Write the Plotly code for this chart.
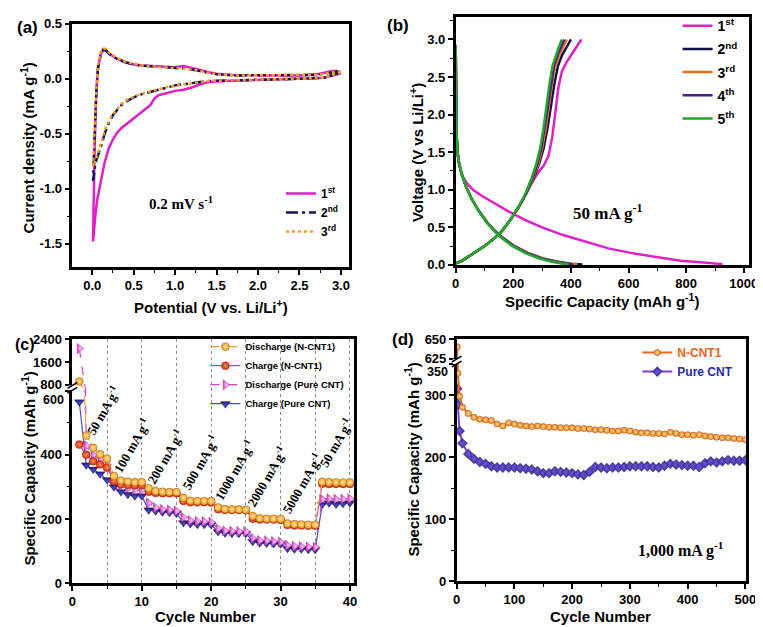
import plotly.graph_objects as go

W, H = 763, 627
def px(x): return x / W
def py(y): return 1 - y / H

SANS = "Arial, Liberation Sans, Helvetica, sans-serif"
SERIF = "Times New Roman, Liberation Serif, serif"

# ---------------- (a) cyclic voltammetry ----------------
cv_v_cath = [3.0, 2.8, 2.5, 2.2, 2.0, 1.8, 1.6, 1.4, 1.3, 1.2, 1.1, 1.0, 0.9, 0.8, 0.75, 0.7,
             0.65, 0.6, 0.5, 0.4, 0.35, 0.3, 0.25, 0.2, 0.15, 0.12, 0.09, 0.06, 0.04, 0.02, 0.01]
cv_v_anod = [0.01, 0.015, 0.02, 0.03, 0.04, 0.05, 0.07, 0.1, 0.13, 0.16, 0.2, 0.3, 0.4, 0.5, 0.6,
             0.8, 1.0, 1.1, 1.2, 1.3, 1.4, 1.5, 1.7, 2.0, 2.3, 2.5, 2.7, 2.8, 2.9, 2.95, 3.0]
cv1_cath = [0.05, 0.01, 0.0, -0.005, -0.01, -0.012, -0.02, -0.03, -0.05, -0.08, -0.1, -0.11, -0.13,
            -0.15, -0.18, -0.24, -0.27, -0.3, -0.36, -0.42, -0.45, -0.49, -0.55, -0.63, -0.76, -0.87,
            -0.98, -1.1, -1.22, -1.38, -1.48]
cv1_anod = [-1.48, -1.2, -0.9, -0.6, -0.35, -0.1, 0.1, 0.22, 0.27, 0.26, 0.23, 0.18, 0.15, 0.13,
            0.12, 0.11, 0.105, 0.115, 0.1, 0.08, 0.06, 0.045, 0.035, 0.03, 0.03, 0.03, 0.04, 0.055,
            0.07, 0.07, 0.06]
cv2_cath = [0.06, 0.01, 0.0, -0.005, -0.008, -0.01, -0.015, -0.02, -0.03, -0.04, -0.05, -0.06, -0.08,
            -0.1, -0.11, -0.12, -0.13, -0.14, -0.17, -0.21, -0.24, -0.28, -0.33, -0.4, -0.5, -0.58,
            -0.66, -0.72, -0.76, -0.85, -0.93]
cv2_anod = [-0.93, -0.8, -0.65, -0.45, -0.28, -0.1, 0.1, 0.21, 0.26, 0.26, 0.23, 0.18, 0.15, 0.13,
            0.12, 0.11, 0.1, 0.095, 0.085, 0.07, 0.055, 0.04, 0.03, 0.03, 0.03, 0.03, 0.035, 0.045,
            0.06, 0.065, 0.06]
cv3_cath = [0.06, 0.01, 0.0, -0.005, -0.008, -0.01, -0.015, -0.02, -0.03, -0.04, -0.05, -0.06, -0.075,
            -0.095, -0.105, -0.115, -0.125, -0.135, -0.165, -0.2, -0.23, -0.27, -0.32, -0.38, -0.47,
            -0.55, -0.63, -0.7, -0.74, -0.78, -0.8]
cv3_anod = [-0.8, -0.7, -0.58, -0.42, -0.26, -0.08, 0.12, 0.24, 0.28, 0.27, 0.24, 0.19, 0.155, 0.135,
            0.12, 0.11, 0.1, 0.095, 0.085, 0.07, 0.055, 0.04, 0.03, 0.03, 0.03, 0.03, 0.035, 0.045,
            0.06, 0.065, 0.06]

# ---------------- (b) charge / discharge profiles ----------------
dis1_cap = [0, 1, 3, 6, 10, 15, 25, 40, 60, 90, 130, 180, 240, 300, 370, 450, 530, 620, 700, 780, 850, 900, 926]
dis1_v = [2.93, 2.2, 1.7, 1.5, 1.38, 1.28, 1.17, 1.08, 1.0, 0.92, 0.83, 0.72, 0.6, 0.5, 0.4, 0.31,
          0.22, 0.15, 0.1, 0.055, 0.035, 0.02, 0.01]
chg1_cap = [0, 20, 40, 70, 100, 130, 160, 190, 220, 245, 265, 288, 305, 322, 335, 345, 356, 368, 385, 402, 420, 436]
chg1_v = [0.02, 0.05, 0.1, 0.17, 0.25, 0.34, 0.45, 0.6, 0.78, 0.95, 1.1, 1.24, 1.32, 1.45, 1.7, 2.0,
          2.35, 2.57, 2.7, 2.8, 2.9, 3.0]
dis_v = [2.9, 2.2, 1.75, 1.52, 1.38, 1.22, 1.05, 0.88, 0.72, 0.56, 0.4, 0.26, 0.16, 0.09, 0.045, 0.015, 0.005]
dis2_cap = [0, 1, 3, 6, 10, 20, 35, 55, 80, 110, 150, 200, 250, 300, 350, 400, 440]
dis3_cap = [0, 1, 3, 6, 10, 20, 35, 55, 80, 110, 149, 198, 247, 295, 342, 388, 422]
dis4_cap = [0, 1, 3, 6, 10, 20, 35, 55, 80, 109, 148, 196, 244, 291, 337, 381, 408]
dis5_cap = [0, 1, 3, 6, 10, 20, 35, 55, 79, 108, 146, 193, 240, 286, 330, 372, 392]
chg_v = [0.02, 0.05, 0.1, 0.17, 0.25, 0.34, 0.45, 0.6, 0.78, 0.95, 1.15, 1.35, 1.55, 1.8, 2.1, 2.4,
         2.65, 2.8, 2.9, 3.0]
chg2_cap = [0, 20, 40, 70, 100, 130, 160, 190, 220, 245, 270, 290, 305, 318, 330, 342, 355, 370, 385, 400]
chg3_cap = [0, 20, 40, 70, 100, 130, 160, 190, 220, 245, 268, 287, 300, 312, 323, 334, 346, 360, 373, 385]
chg4_cap = [0, 20, 40, 70, 100, 130, 160, 190, 220, 244, 266, 284, 297, 308, 319, 330, 341, 354, 366, 377]
chg5_cap = [0, 20, 40, 70, 100, 130, 160, 190, 219, 242, 263, 280, 293, 304, 314, 325, 336, 348, 358, 368]

# ---------------- (c) rate capability ----------------
cycles_c = list(range(1, 41))
dis_ncnt = [920, 460, 422, 402, 388, 334, 320, 317, 315, 315, 296, 287, 285, 284, 284, 266, 257, 256, 256, 256,
            236, 231, 230, 230, 229, 209, 202, 201, 201, 200, 186, 184, 183, 182, 182, 316, 315, 314, 314, 314]
chg_ncnt = [432, 400, 380, 370, 360, 318, 308, 306, 305, 305, 285, 281, 280, 280, 280, 256, 252, 252, 252, 251,
            230, 228, 228, 228, 227, 201, 198, 198, 198, 197, 181, 180, 180, 179, 179, 310, 309, 309, 309, 309]
dis_pure = [2070, 428, 400, 385, 370, 322, 305, 296, 291, 290, 250, 235, 230, 228, 225, 205, 195, 193, 192, 190,
            170, 163, 162, 161, 160, 140, 133, 132, 130, 128, 118, 115, 114, 113, 112, 262, 263, 262, 262, 263]
chg_pure = [565, 368, 355, 340, 322, 300, 285, 276, 272, 272, 228, 225, 222, 220, 218, 188, 185, 183, 183, 182,
            160, 156, 155, 155, 155, 130, 125, 124, 123, 122, 108, 106, 106, 105, 105, 245, 250, 246, 248, 250]
rate_labels = ["50", "100", "200", "500", "1000", "2000", "5000", "50"]
rate_lab_x = [4.4, 8.5, 13.4, 18.4, 23.3, 28.0, 33.1, 38.0]
rate_lab_y = [540, 432, 396, 378, 353, 335, 311, 439]
c_low_ticks = [0, 200, 400, 600]
c_low_text = ["0", "200", "400", ""]     # "600" is printed just below the break
c_high_ticks = [800, 1600, 2400]

# ---------------- (d) long cycling ----------------
cycles_d = [1, 2, 5] + list(range(10, 501, 10))
ncnt_d = [640, 335, 298,
          280, 270, 264, 261, 260, 259, 253, 250, 255, 253,
          251, 250, 249, 250, 249, 248, 248, 247, 247, 247,
          246, 246, 245, 244, 244, 243, 242, 242, 243, 242,
          240, 239, 239, 238, 238, 237, 240, 238, 236, 236,
          235, 236, 234, 233, 232, 231, 231, 230, 229, 228]
pure_d = [310, 285, 242,
          222, 205, 197, 192, 189, 185, 183, 183, 183, 183,
          182, 181, 180, 177, 174, 174, 177, 176, 175, 174,
          172, 171, 176, 184, 183, 182, 183, 183, 184, 185,
          185, 185, 185, 184, 183, 186, 189, 188, 187, 186,
          186, 184, 190, 193, 191, 193, 195, 194, 194, 195]
d_low_ticks = [0, 100, 200, 300, 350]
d_low_text = ["0", "100", "200", "300", ""]   # "350" is printed just below the break
d_high_ticks = [625, 650]

fig = go.Figure()

# (a)
for name, yc, ya, col, dash, wid in [
        ("1<sup>st</sup>", cv1_cath, cv1_anod, "#E11FC9", "solid", 2.5),
        ("2<sup>nd</sup>", cv2_cath, cv2_anod, "#15155E", "12px,4px,3px,4px", 2.5),
        ("3<sup>rd</sup>", cv3_cath, cv3_anod, "#F0A024", "dot", 2.5)]:
    fig.add_trace(go.Scatter(x=cv_v_cath + cv_v_anod, y=yc + ya, mode="lines", name=name,
                             line=dict(color=col, width=wid, dash=dash),
                             xaxis="x", yaxis="y", legend="legend", legendgroup=name))

# (b)
b_sets = [("1<sup>st</sup>", dis1_cap, dis1_v, chg1_cap, chg1_v, "#E01FC8"),
          ("2<sup>nd</sup>", dis2_cap, dis_v, chg2_cap, chg_v, "#12124A"),
          ("3<sup>rd</sup>", dis3_cap, dis_v, chg3_cap, chg_v, "#E8701A"),
          ("4<sup>th</sup>", dis4_cap, dis_v, chg4_cap, chg_v, "#4A1E8C"),
          ("5<sup>th</sup>", dis5_cap, dis_v, chg5_cap, chg_v, "#22A82A")]
for name, dc, dv, cc, cvv, col in b_sets:
    fig.add_trace(go.Scatter(x=dc, y=dv, mode="lines", name=name, line=dict(color=col, width=2.5),
                             xaxis="x2", yaxis="y2", legend="legend2", legendgroup=name))
    fig.add_trace(go.Scatter(x=cc, y=cvv, mode="lines", name=name, line=dict(color=col, width=2.5),
                             xaxis="x2", yaxis="y2", legend="legend2", legendgroup=name, showlegend=False))

# (c)
c_series = [
    ("Charge (Pure CNT)", chg_pure, dict(symbol="triangle-down", size=9, color="#1C1C86",
                                          gradient=dict(type="radial", color="#4A4AD0")),
     dict(color="#4A4ACF", width=1.2, dash="solid"), 4),
    ("Discharge (Pure CNT)", dis_pure, dict(symbol="triangle-right", size=9, color="#E040E0",
                                             gradient=dict(type="radial", color="#F8C8F8")),
     dict(color="#D040D8", width=1.2, dash="dash"), 3),
    ("Charge (N-CNT1)", chg_ncnt, dict(symbol="circle", size=8, color="#E0201C",
                                        gradient=dict(type="radial", color="#F59A50")),
     dict(color="#D23CB0", width=1.2, dash="solid"), 2),
    ("Discharge (N-CNT1)", dis_ncnt, dict(symbol="circle", size=8, color="#F09A1E",
                                           gradient=dict(type="radial", color="#FFE6A0")),
     dict(color="#E8A040", width=1.2, dash="dashdot"), 1),
]
for name, vals, mk, ln, rank in c_series:
    for xa, ya, sl in (("x3", "y3", True), ("x4", "y4", False)):
        fig.add_trace(go.Scatter(x=cycles_c, y=vals, mode="lines+markers", name=name,
                                 marker=dict(line=dict(width=0.5, color="rgba(80,40,0,0.5)"), **mk),
                                 line=ln, xaxis=xa, yaxis=ya, legend="legend3",
                                 showlegend=sl, legendrank=rank, legendgroup=name))

# (d)
d_series = [
    ('<span style="color:#2B2BA8">Pure CNT</span>', pure_d,
     dict(symbol="diamond", size=8, color="#3A2A9C", gradient=dict(type="radial", color="#6A5AD8")),
     dict(color="#8040D8", width=2), 2),
    ('<span style="color:#E8641E">N-CNT1</span>', ncnt_d,
     dict(symbol="circle", size=6.5, color="#F07820", gradient=dict(type="radial", color="#FFE08A")),
     dict(color="#E8681C", width=2), 1),
]
for name, vals, mk, ln, rank in d_series:
    for xa, ya, sl in (("x5", "y5", True), ("x6", "y6", False)):
        fig.add_trace(go.Scatter(x=cycles_d, y=vals, mode="lines+markers", name=name,
                                 marker=dict(line=dict(width=0.4, color="rgba(60,30,0,0.5)"), **mk),
                                 line=ln, xaxis=xa, yaxis=ya, legend="legend4",
                                 showlegend=sl, legendrank=rank, legendgroup=name))


TICKFONT = dict(family=SANS, size=13, color="black", weight="bold")

def axis(domain, rng, **kw):
    d = dict(domain=domain, range=rng, showline=True, linecolor="black", linewidth=2.5,
             ticks="outside", ticklen=5, tickwidth=1.5, tickcolor="black", showgrid=False,
             zeroline=False, fixedrange=True, tickfont=TICKFONT)
    d.update(kw)
    return d

minor_tick = lambda **k: dict(ticks="outside", ticklen=3, tickwidth=1.2, tickcolor="black", **k)
GRID = dict(showgrid=True, gridcolor="#8C8C8C", gridwidth=1, griddash="dot")

layout = dict(
    width=W, height=H, autosize=False, margin=dict(l=0, r=0, t=0, b=0),
    paper_bgcolor="white", plot_bgcolor="white", showlegend=True,
    # (a)
    xaxis=axis([px(61.5), px(343.5)], [-0.24, 3.1], anchor="y", mirror=True,
               tickvals=[0, 0.5, 1.0, 1.5, 2.0, 2.5, 3.0],
               ticktext=["0.0", "0.5", "1.0", "1.5", "2.0", "2.5", "3.0"],
               minor=minor_tick(dtick=0.25, tick0=0)),
    yaxis=axis([py(258.3), py(9)], [-1.713, 0.5], anchor="x", mirror=True,
               tickvals=[-1.5, -1.0, -0.5, 0.0, 0.5],
               ticktext=["-1.5", "-1.0", "-0.5", "0.0", "0.5"],
               minor=minor_tick(dtick=0.25, tick0=0)),
    # (b)
    xaxis2=axis([px(452), px(750.5)], [0, 1017], anchor="y2", mirror=True,
                tickvals=[0, 200, 400, 600, 800, 1000], minor=minor_tick(dtick=100, tick0=0)),
    yaxis2=axis([py(256), py(2)], [0, 3.3], anchor="x2", mirror=True,
                tickvals=[0, 0.5, 1.0, 1.5, 2.0, 2.5, 3.0],
                ticktext=["0.0", "0.5", "1.0", "1.5", "2.0", "2.5", "3.0"],
                minor=minor_tick(dtick=0.25, tick0=0)),
    # (c)
    xaxis3=axis([px(61.5), px(348.5)], [0, 40.6], anchor="y3", mirror=False,
                tickvals=[0, 10, 20, 30, 40], **GRID,
                minor=minor_tick(dtick=5, tick0=0, **GRID)),
    yaxis3=axis([py(582), py(382)], [0, 609], anchor="x3", mirror=True,
                tickvals=c_low_ticks, ticktext=c_low_text,
                minor=minor_tick(tickvals=[100, 300, 500])),
    xaxis4=axis([px(61.5), px(348.5)], [0, 40.6], anchor="y4", side="top", mirror=False,
                ticks="", showticklabels=False, tickvals=[0, 10, 20, 30, 40], **GRID,
                minor=dict(dtick=5, tick0=0, **GRID)),
    yaxis4=axis([py(382), py(332)], [698, 2400], anchor="x4", mirror=True,
                tickvals=c_high_ticks),
    # (d)
    xaxis5=axis([px(453), px(748)], [0, 501.5], anchor="y5", mirror=False,
                tickvals=[0, 100, 200, 300, 400, 500], minor=minor_tick(dtick=50, tick0=0)),
    yaxis5=axis([py(580), py(355)], [0, 353.9], anchor="x5", mirror=True,
                tickvals=d_low_ticks, ticktext=d_low_text,
                minor=minor_tick(tickvals=[50, 150, 250])),
    xaxis6=axis([px(453), px(748)], [0, 501.5], anchor="y6", side="top", mirror=False,
                ticks="", showticklabels=False),
    yaxis6=axis([py(355), py(332)], [621.25, 650], anchor="x6", mirror=True,
                tickvals=d_high_ticks),
)

def leg(x, y, size, gap=0):
    return dict(x=px(x), y=py(y), xanchor="left", yanchor="top", bgcolor="rgba(0,0,0,0)",
                borderwidth=0, tracegroupgap=gap, itemwidth=30,
                font=dict(family=SANS, size=size, color="black", weight="bold"))

layout["legend"] = leg(274, 168, 12, 0)
layout["legend2"] = leg(678, -5, 14, 2)
layout["legend3"] = leg(197, 325, 9.5, 0)
layout["legend4"] = leg(637, 331, 12, 0)

ann = []
def text(x, y, s, size, family=SANS, angle=0, xanchor="center", **kw):
    ann.append(dict(x=px(x), y=py(y), xref="paper", yref="paper", text=s, showarrow=False,
                    textangle=angle, xanchor=xanchor, yanchor="middle",
                    font=dict(family=family, size=size, color="black"), **kw))

# axis titles
text(202.5, 299, "<b>Potential (V vs. Li/Li<sup>+</sup>)</b>", 15)
text(16, 136, "<b>Current density (mA g<sup>-1</sup>)</b>", 15, angle=-90)
text(601, 292, "<b>Specific Capacity (mAh g<sup>-1</sup>)</b>", 15)
text(412, 141, "<b>Voltage (V vs Li/Li<sup>+</sup>)</b>", 15, angle=-90)
text(197, 616, "<b>Cycle Number</b>", 15)
text(17, 465, "<b>Specific Capacity (mAh g<sup>-1</sup>)</b>", 15, angle=-90)
text(600, 616, "<b>Cycle Number</b>", 15)
text(407, 456, "<b>Specific Capacity (mAh g<sup>-1</sup>)</b>", 15, angle=-90)
# tick labels sitting just under the axis breaks
text(54.5, 394, "<b>600</b>", 12.5, xanchor="right")
text(446, 366, "<b>350</b>", 12.5, xanchor="right")
# panel labels
text(16, 13, "<b>(a)</b>", 17)
text(393, 11, "<b>(b)</b>", 17)
text(13, 338, "<b>(c)</b>", 16)
text(398, 332, "<b>(d)</b>", 17)
# in-plot notes
text(172, 193, "<b>0.2 mV s<sup>-1</sup></b>", 15, family=SERIF)
text(607, 202, "<b>50 mA g<sup>-1</sup></b>", 17, family=SERIF)
text(682, 548, "<b>1,000 mA g<sup>-1</sup></b>", 16, family=SERIF)

for lab, lx, ly in zip(rate_labels, rate_lab_x, rate_lab_y):
    ann.append(dict(x=lx, y=ly, xref="x3", yref="y3", text="<b>%s mA g<sup>-1</sup></b>" % lab,
                    showarrow=False, textangle=-60, xanchor="center", yanchor="middle",
                    font=dict(family=SERIF, size=13, color="black")))
layout["annotations"] = ann

shapes = []
def brk(x0, y0):
    shapes.append(dict(type="rect", xref="paper", yref="paper", x0=px(x0 - 4), x1=px(x0 + 4),
                       y0=py(y0 + 2.5), y1=py(y0 - 2.5), fillcolor="white", line=dict(width=0),
                       layer="above"))
    for off in (-2.5, 2.5):
        shapes.append(dict(type="line", xref="paper", yref="paper",
                           x0=px(x0 - 5), y0=py(y0 + off + 3), x1=px(x0 + 5), y1=py(y0 + off - 3),
                           line=dict(color="black", width=1.5), layer="above"))
brk(61.5, 382)
brk(453, 355)
layout["shapes"] = shapes

fig.update_layout(**layout)
fig.write_html("out.html")
